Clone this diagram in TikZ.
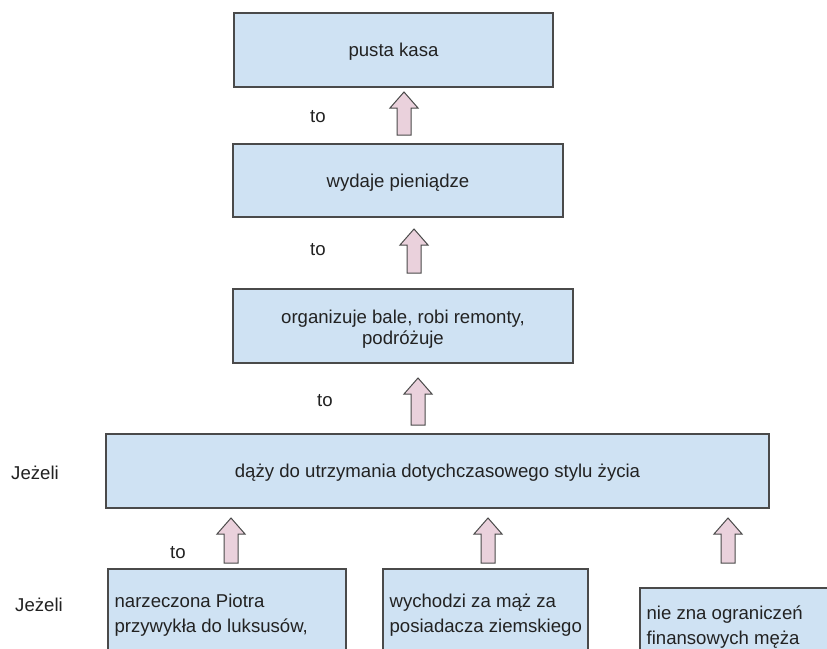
\documentclass[tikz,border=0pt]{standalone}
\usepackage{fontspec}
\setmainfont{Liberation Sans}
\definecolor{boxfill}{HTML}{CFE2F3}
\definecolor{boxline}{HTML}{4A4A4A}
\definecolor{arrowfill}{HTML}{EAD1DC}
\definecolor{ink}{HTML}{222222}
% hollow block arrow pointing up: #1 = x of axis, #2 = y of tail, #3 = y of tip
\newcommand\blockarrowup[3]{%
  \draw[blockarrow] ({#1-7},{#2}) -- ({#1+7},{#2}) -- ({#1+7},{#3+16})
    -- ({#1+14},{#3+16}) -- ({#1},{#3}) -- ({#1-14},{#3+16})
    -- ({#1-7},{#3+16}) -- cycle;}
\begin{document}
\begin{tikzpicture}[x=1pt,y=-1pt,
  txt/.style={font=\fontsize{18.6}{21.5}\selectfont, text=ink, inner sep=0pt},
  box/.style={draw=boxline, fill=boxfill, line width=1.2pt, inner sep=0pt},
  boxtext/.style={txt, align=center},
  lefttext/.style={txt, align=left, anchor=west,
    font=\fontsize{18.6}{24.5}\selectfont},
  tag/.style={txt},
  blockarrow/.style={draw=boxline, fill=arrowfill, line width=1pt}]
\useasboundingbox (0,0) rectangle (827,648);
\clip (0,0) rectangle (827,648);
\fill[white] (0,0) rectangle (827,648);

% chain of consequences
\node[box, minimum width=319pt, minimum height=74pt] (kasa) at (393.5,50) {};
\node[boxtext] (kasaT) at ([yshift=-2pt]kasa.center) {pusta kasa};
\node[box, minimum width=330pt, minimum height=73pt] (wydaje) at (398,180.5) {};
\node[boxtext] (wydajeT) at ([yshift=-2pt]wydaje.center) {wydaje pieniądze};
\node[box, minimum width=340pt, minimum height=74pt] (organizuje) at (403,326) {};
\node[boxtext] (organizujeT) at ([yshift=-3pt]organizuje.center)
  {organizuje bale, robi remonty,\\podróżuje};
\node[box, minimum width=663pt, minimum height=74pt] (dazy) at (437.5,471) {};
\node[boxtext] (dazyT) at ([yshift=-2pt]dazy.center)
  {dąży do utrzymania dotychczasowego stylu życia};

% conditions (boxes run past the lower edge)
\node[box, minimum width=238pt, minimum height=90pt] (narzeczona) at (227,614) {};
\node[lefttext] (narzeczonaT) at ([xshift=7pt,yshift=-1pt]narzeczona.west)
  {narzeczona Piotra\\przywykła do luksusów,};
\node[box, minimum width=205pt, minimum height=90pt] (wychodzi) at (485.5,614) {};
\node[lefttext] (wychodziT) at ([xshift=7pt,yshift=-1pt]wychodzi.west)
  {wychodzi za mąż za\\posiadacza ziemskiego};
\node[box, minimum width=210pt, minimum height=86pt] (nieznana) at (745,631) {};
\node[lefttext] (nieznanaT) at ([xshift=7pt,yshift=4pt]nieznana.west)
  {nie zna ograniczeń\\finansowych męża};

% side labels
\node[tag] (to1) at (318,117) {to};
\node[tag] (to2) at (318,250) {to};
\node[tag] (to3) at (325,401) {to};
\node[tag] (to4) at (178,553) {to};
\node[tag] (jezeli1) at (35,473) {Jeżeli};
\node[tag] (jezeli2) at (39,605) {Jeżeli};

% block arrows
\blockarrowup{404}{135}{92}
\blockarrowup{414}{273}{229}
\blockarrowup{418}{425}{378}
\blockarrowup{231}{563}{518}
\blockarrowup{488}{563}{518}
\blockarrowup{728}{563}{518}
\end{tikzpicture}
\end{document}
